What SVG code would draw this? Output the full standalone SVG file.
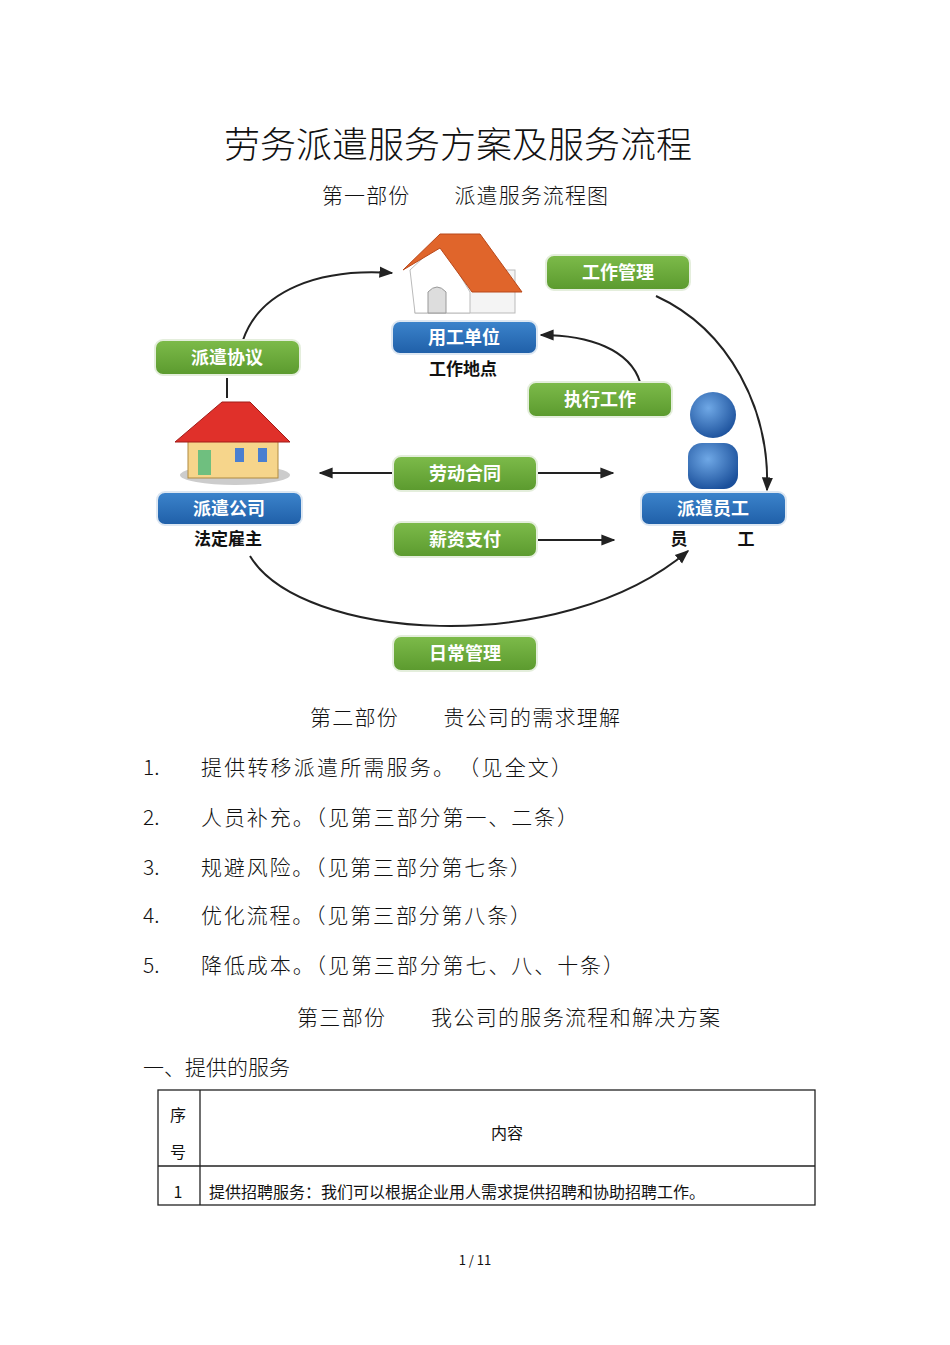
<svg xmlns="http://www.w3.org/2000/svg" width="950" height="1345" viewBox="0 0 950 1345">
<defs>
<marker id="ah" viewBox="0 0 10 10" refX="9" refY="5" markerWidth="7" markerHeight="7" orient="auto-start-reverse"><path d="M0,1 L10,5 L0,9 z" fill="#222"/></marker>
<linearGradient id="g" x1="0" y1="0" x2="0" y2="1"><stop offset="0" stop-color="#7dbb4a"/><stop offset="1" stop-color="#5b9a2e"/></linearGradient>
<linearGradient id="b" x1="0" y1="0" x2="0" y2="1"><stop offset="0" stop-color="#3c84cc"/><stop offset="1" stop-color="#1f5fa8"/></linearGradient>
<radialGradient id="hd" cx="0.4" cy="0.35" r="0.7"><stop offset="0" stop-color="#6fa8e6"/><stop offset="1" stop-color="#1a4f9a"/></radialGradient>
</defs>
<style>
text{font-family:"Noto Sans CJK SC","Liberation Sans",sans-serif;fill:#111}
.pill{fill:url(#g);stroke:#e4eedc;stroke-width:2}
.blue{fill:url(#b);stroke:#dde7f2;stroke-width:2}
.pt{fill:#fff;font-weight:bold;font-size:18px;text-anchor:middle}
.sub{font-weight:bold;font-size:17px;text-anchor:middle}
.c{fill:none;stroke:#222;stroke-width:2}
.body{font-size:21px;font-weight:300}
.h2{font-size:21px;font-weight:300}
</style>
<rect width="950" height="1345" fill="#fff"/>
<text x="458" y="158" font-size="36" text-anchor="middle" font-weight="300">劳务派遣服务方案及服务流程</text>
<text x="322" y="203" class="h2" textLength="286" lengthAdjust="spacing">第一部份　　派遣服务流程图</text>

<g id="connectors">
<path class="c" d="M227,398 L227,378"/>
<path class="c" d="M243,340 C260,290 320,268 392,273" marker-end="url(#ah)"/>
<path class="c" d="M656,296 C730,330 770,410 767,490" marker-end="url(#ah)"/>
<path class="c" d="M640,382 C630,350 590,335 541,335" marker-end="url(#ah)"/>
<path class="c" d="M320,473 L393,473" marker-start="url(#ah)"/>
<path class="c" d="M537,473 L613,473" marker-end="url(#ah)"/>
<path class="c" d="M537,540 L614,540" marker-end="url(#ah)"/>
<path class="c" d="M250,556 C300,640 560,660 688,551" marker-end="url(#ah)"/>
</g>

<g id="house1">
<rect x="415" y="270" width="100" height="43" fill="#f4f4f4" stroke="#bbb"/>
<path d="M410,270 L440,242 L470,292 L470,313 L415,313 Z" fill="#fff" stroke="#bbb"/>
<path d="M428,313 L428,292 Q437,282 446,292 L446,313 Z" fill="#ddd" stroke="#999"/>
<path d="M403,270 L440,234 L480,234 L522,292 L472,292 L440,248 Z" fill="#e0652b" stroke="#b8481a"/>
</g>
<g id="house2">
<ellipse cx="235" cy="475" rx="55" ry="10" fill="#ccc"/>
<rect x="188" y="438" width="90" height="40" fill="#f6d58b" stroke="#b08a40"/>
<rect x="198" y="450" width="13" height="25" fill="#6fbf7f"/>
<rect x="235" y="448" width="9" height="14" fill="#4a7fd0"/>
<rect x="258" y="448" width="9" height="14" fill="#4a7fd0"/>
<path d="M175,442 L222,402 L250,402 L290,442 Z" fill="#e0302a" stroke="#a01c18"/>
</g>
<g id="person">
<circle cx="713" cy="415" r="23" fill="url(#hd)"/>
<rect x="688" y="443" width="50" height="46" rx="14" fill="url(#hd)"/>
</g>

<g id="n-gzgl"><rect class="pill" x="546" y="255" width="144" height="35" rx="8"/><text class="pt" x="618" y="279">工作管理</text></g>
<g id="n-pqxy"><rect class="pill" x="155" y="340" width="145" height="35" rx="8"/><text class="pt" x="227" y="364">派遣协议</text></g>
<g id="n-zxgz"><rect class="pill" x="528" y="382" width="144" height="35" rx="8"/><text class="pt" x="600" y="406">执行工作</text></g>
<g id="n-ldht"><rect class="pill" x="393" y="456" width="144" height="35" rx="8"/><text class="pt" x="465" y="480">劳动合同</text></g>
<g id="n-xzzf"><rect class="pill" x="393" y="522" width="144" height="35" rx="8"/><text class="pt" x="465" y="546">薪资支付</text></g>
<g id="n-rcgl"><rect class="pill" x="393" y="636" width="144" height="35" rx="8"/><text class="pt" x="465" y="660">日常管理</text></g>
<g id="n-ygdw"><rect class="blue" x="392" y="321" width="145" height="33" rx="8"/><text class="pt" x="464" y="344">用工单位</text><text class="sub" x="463" y="375">工作地点</text></g>
<g id="n-pqgs"><rect class="blue" x="157" y="492" width="145" height="33" rx="8"/><text class="pt" x="229" y="515">派遣公司</text><text class="sub" x="228" y="545">法定雇主</text></g>
<g id="n-pqyg"><rect class="blue" x="641" y="492" width="145" height="33" rx="8"/><text class="pt" x="713" y="515">派遣员工</text><text class="sub" x="679" y="545">员</text><text class="sub" x="746" y="545">工</text></g>

<text x="310" y="725" class="h2" textLength="310" lengthAdjust="spacing">第二部份　　贵公司的需求理解</text>
<text x="143" y="775" class="body">1.</text><text x="201" y="775" class="body" textLength="371" lengthAdjust="spacing">提供转移派遣所需服务。　（见全文）</text>
<text x="143" y="825" class="body">2.</text><text x="201" y="825" class="body" textLength="377" lengthAdjust="spacing">人员补充。（见第三部分第一、二条）</text>
<text x="143" y="875" class="body">3.</text><text x="201" y="875" class="body" textLength="330" lengthAdjust="spacing">规避风险。（见第三部分第七条）</text>
<text x="143" y="923" class="body">4.</text><text x="201" y="923" class="body" textLength="330" lengthAdjust="spacing">优化流程。（见第三部分第八条）</text>
<text x="143" y="973" class="body">5.</text><text x="201" y="973" class="body" textLength="423" lengthAdjust="spacing">降低成本。（见第三部分第七、八、十条）</text>
<text x="297" y="1025" class="h2" textLength="423" lengthAdjust="spacing">第三部份　　我公司的服务流程和解决方案</text>
<text x="143" y="1075" class="body">一、提供的服务</text>
<g id="table" fill="none" stroke="#222" stroke-width="1.3">
<rect x="158" y="1090" width="657" height="115"/>
<line x1="158" y1="1166" x2="815" y2="1166"/>
<line x1="200" y1="1090" x2="200" y2="1205"/>
</g>
<text x="178" y="1121" font-size="16" text-anchor="middle">序</text>
<text x="178" y="1158" font-size="16" text-anchor="middle">号</text>
<text x="507" y="1139" font-size="16" text-anchor="middle">内容</text>
<text x="178" y="1198" font-size="16" text-anchor="middle">1</text>
<text x="209" y="1198" font-size="16">提供招聘服务：我们可以根据企业用人需求提供招聘和协助招聘工作。</text>
<text x="475" y="1265" font-size="13" text-anchor="middle">1 / 11</text>
</svg>
